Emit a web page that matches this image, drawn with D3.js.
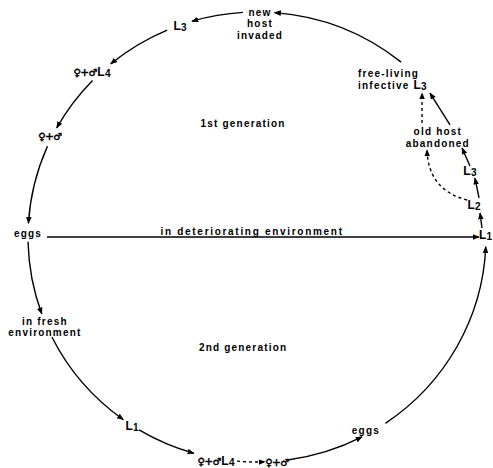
<!DOCTYPE html>
<html>
<head>
<meta charset="utf-8">
<script src="https://d3js.org/d3.v7.min.js"></script>
<style>
  body { margin: 0; background: #fff; }
  text { font-family: "Liberation Sans", Arial, sans-serif; font-weight: bold; font-size: 10px; letter-spacing: 1.2px; fill: #000; }
  .big { font-size: 12px; letter-spacing: 0.3px; }
  .num { letter-spacing: 0; }
  .sex { font-family: "DejaVu Sans", sans-serif; font-weight: normal; font-size: 10px; letter-spacing: -0.3px; stroke: #000; stroke-width: 0.5px; }
  .wide { letter-spacing: 1.7px; }
</style>
</head>
<body>
<svg width="493" height="468" id="cycle"></svg>
<script>
// nodes of the cycle: text lines, angle on the ring (deg, clockwise from east), radius as fraction of ring
var nodeLabels = [
  ["new", "host", "invaded"], ["L3"], ["♀+♂L4"], ["♀+♂"], ["eggs"],
  ["in fresh", "environment"], ["L1"], ["♀+♂L4"], ["♀+♂"], ["eggs"],
  ["L1"], ["L2"], ["L3"], ["old host", "abandoned"], ["free-living", "infective L3"],
  ["1st generation"], ["2nd generation"], ["in deteriorating environment"]
];
var nodeAngles = [-89.2, -109.8, -134.5, -153.6, -179.2, 156.6, 122.9, 100.2, 85, 61, -0.3, -8.3, -17.3, -29.35, -57.7, -96.9, 97, -129];
var nodeRadii  = [0.947, 0.992, 1.028, 1.009, 1.0, 1.009, 1.005, 1.012, 1.004, 0.981, 0.998, 0.958, 0.974, 0.906, 0.826, 0.506, 0.497, 0.034];

// arrows along the ring (start angle, end angle)
var arcStart  = [-51, -93.5, -113.1, -135.9, -156.2, 178.8, 153.6, 121, 95, 82.3, 55.9];
var arcEnd    = [-85.6, -106.5, -129.7, -151, -176.5, 160, 125.7, 106, 88, 62.7, 2.5];
var arcDashed = [false, false, false, false, false, false, false, false, true, false, false];

// arrows inside the ring (polar start / end, bend of the curve)
var linkStartAngle  = [-2.33, -10.14, -18.74, -30.57, -35.12, -10.16, 180];
var linkStartRadius = [0.983, 0.985, 0.982, 0.979, 0.881, 0.932, 0.917];
var linkEndAngle    = [-6.25, -15.4, -23.84, -40.27, -41.6, -27.5, 0];
var linkEndRadius   = [0.980, 0.987, 0.979, 0.990, 0.964, 0.837, 0.969];
var linkBend        = [0, 0, 0, 0, 0, -24, 0];
var linkDashed      = [false, false, false, false, true, true, false];

var svg = d3.select("#cycle");
var cx = 257, cy = 237, rx = 229, ry = 225;
var rad = d3.scaleLinear().domain([0, 180]).range([0, Math.PI]);
function polar(a, f) {
  return [cx + rx * f * Math.cos(rad(a)), cy + ry * f * Math.sin(rad(a))];
}

svg.append("defs").append("marker")
  .attr("id", "head")
  .attr("viewBox", "0 0 10 8")
  .attr("refX", 9).attr("refY", 4)
  .attr("markerWidth", 7).attr("markerHeight", 6)
  .attr("markerUnits", "userSpaceOnUse")
  .attr("orient", "auto")
  .append("path").attr("d", "M0,0 L10,4 L0,8 Z").attr("fill", "#000");

// ring arrows
svg.append("g").selectAll("path")
  .data(d3.range(arcStart.length))
  .join("path")
  .attr("d", function (i) {
    var p0 = polar(arcStart[i], 1), p1 = polar(arcEnd[i], 1);
    var sweep = arcEnd[i] > arcStart[i] ? 1 : 0;
    return "M" + p0 + " A" + rx + "," + ry + " 0 0," + sweep + " " + p1;
  })
  .attr("fill", "none")
  .attr("stroke", "#000")
  .attr("stroke-width", 1.4)
  .attr("stroke-dasharray", function (i) { return arcDashed[i] ? "3,3" : null; })
  .attr("marker-end", "url(#head)");

// inner arrows
svg.append("g").selectAll("path")
  .data(d3.range(linkStartAngle.length))
  .join("path")
  .attr("d", function (i) {
    var p0 = polar(linkStartAngle[i], linkStartRadius[i]);
    var p1 = polar(linkEndAngle[i], linkEndRadius[i]);
    if (!linkBend[i]) return "M" + p0 + " L" + p1;
    var dx = p1[0] - p0[0], dy = p1[1] - p0[1], len = Math.hypot(dx, dy);
    var mx = (p0[0] + p1[0]) / 2 - dy / len * linkBend[i];
    var my = (p0[1] + p1[1]) / 2 + dx / len * linkBend[i];
    return "M" + p0 + " Q" + mx + "," + my + " " + p1;
  })
  .attr("fill", "none")
  .attr("stroke", "#000")
  .attr("stroke-width", 1.4)
  .attr("stroke-dasharray", function (i) { return linkDashed[i] ? "3,3" : null; })
  .attr("marker-end", "url(#head)");

// labels: larval stages get a large L, sex symbols a text font that has them
function addLine(t, str) {
  str.split(/(L\d|♀\+♂)/).forEach(function (p) {
    if (/^L\d$/.test(p)) {
      t.append("tspan").attr("class", "big").text("L");
      t.append("tspan").attr("class", "num").attr("dy", 1).text(p[1]);
      t.append("tspan").attr("dy", -1).text("");
    } else if (p === "♀+♂") {
      t.append("tspan").attr("class", "sex").text("\u2640\uFE0E+\u2642\uFE0E");
    } else if (p) {
      t.append("tspan").text(p);
    }
  });
}

var labels = svg.append("g");
nodeLabels.forEach(function (lines, i) {
  var p = polar(nodeAngles[i], nodeRadii[i]);
  var lh = lines.length === 3 ? 11.5 : (i === 5 ? 10.5 : 12);
  lines.forEach(function (line, j) {
    var t = labels.append("text")
      .attr("x", p[0])
      .attr("y", p[1] + (j - (lines.length - 1) / 2) * lh + 3.5)
      .attr("text-anchor", i === 14 ? "start" : "middle")
      .classed("wide", i === 17);
    addLine(t, line);
  });
});
</script>
</body>
</html>
